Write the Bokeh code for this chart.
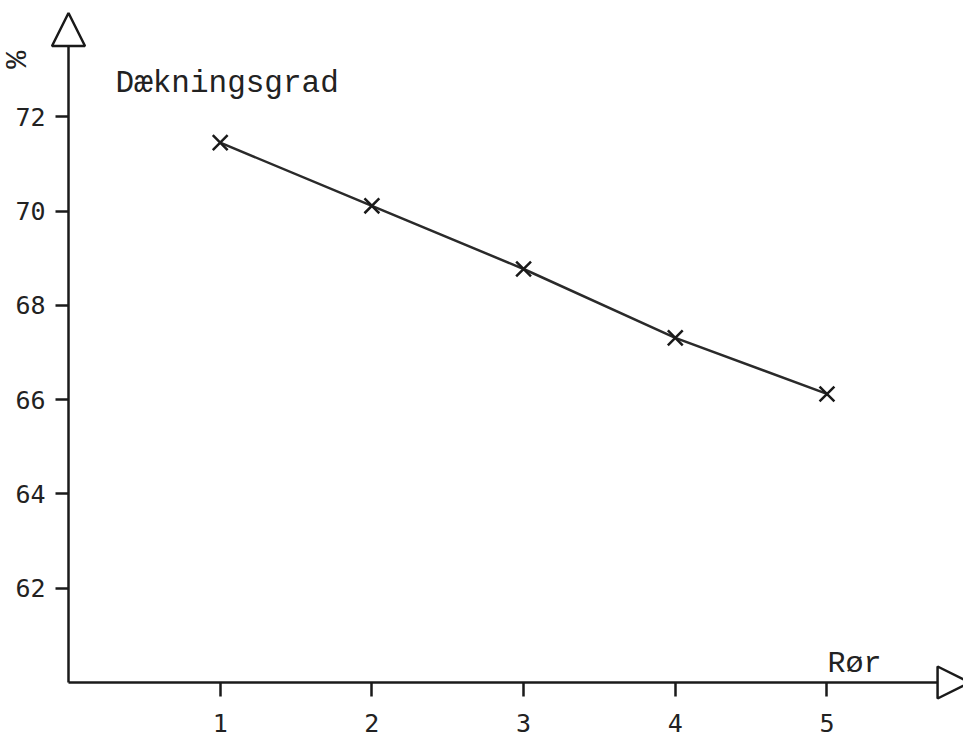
from bokeh.plotting import figure
from bokeh.models import Range1d, FixedTicker, Arrow, NormalHead, Label
from bokeh.embed import file_html
from bokeh.resources import INLINE

# data
roer = [1, 2, 3, 4, 5]
daekning = [71.45, 70.11, 68.77, 67.31, 66.12]
x_ticks = [1, 2, 3, 4, 5]
y_ticks = [62, 64, 66, 68, 70, 72]
y_label = "%"
series_label = "Dækningsgrad"
x_label = "Rør"

INK = "#1a1a1a"
TICK_FONT = "DejaVu Sans Mono"
TEXT_FONT = "Liberation Mono"

p = figure(width=963, height=739, output_backend="svg", toolbar_location=None,
           x_range=Range1d(-0.4483, 5.9), y_range=Range1d(58.791, 74.465),
           min_border_left=0, min_border_right=0, min_border_top=0,
           min_border_bottom=0)
p.outline_line_color = None
p.xgrid.visible = False
p.ygrid.visible = False
p.background_fill_color = "white"
p.border_fill_color = "white"

for ax in (p.xaxis[0], p.yaxis[0]):
    ax.axis_line_color = INK
    ax.axis_line_width = 2.5
    ax.major_tick_line_color = INK
    ax.major_tick_line_width = 2.5
    ax.major_tick_in = 0
    ax.minor_tick_line_color = None
    ax.major_label_text_font = TICK_FONT
    ax.major_label_text_font_size = "25px"
    ax.major_label_text_color = "#222222"

p.xaxis.fixed_location = 60
p.yaxis.fixed_location = 0
p.xaxis.bounds = (0, 5.75)
p.yaxis.bounds = (60, 73.6)
p.xaxis.ticker = FixedTicker(ticks=x_ticks)
p.yaxis.ticker = FixedTicker(ticks=y_ticks)
p.xaxis.major_tick_out = 14
p.yaxis.major_tick_out = 13
p.xaxis.major_label_standoff = 18
p.yaxis.major_label_standoff = 10

# axis arrows
p.add_layout(Arrow(end=NormalHead(size=33, fill_color="white", line_color=INK, line_width=2.5),
                   x_start=0, y_start=60, x_end=0, y_end=74.2, line_alpha=0))
p.add_layout(Arrow(end=NormalHead(size=32, fill_color="white", line_color=INK, line_width=2.5),
                   x_start=0, y_start=60, x_end=5.94, y_end=60, line_alpha=0))

# series
p.line(roer, daekning, line_color="#2a2a2a", line_width=2.5)
p.scatter(roer, daekning, marker="x", size=21, line_color=INK, line_width=2.5)

# labels
p.add_layout(Label(x=0.31, y=72.70, text=series_label, text_font=TEXT_FONT,
                   text_font_size="31px", text_color="#222222",
                   text_baseline="alphabetic"))
p.add_layout(Label(x=5.003, y=60.40, text=x_label, text_font=TEXT_FONT,
                   text_font_size="30px", text_color="#222222",
                   text_baseline="alphabetic"))
p.add_layout(Label(x=-0.336, y=73.21, text=y_label, text_font=TEXT_FONT,
                   text_font_size="30px", text_color="#222222",
                   text_align="center", text_baseline="middle", angle=1.5708))

open("out.html", "w").write(file_html(p, INLINE))
